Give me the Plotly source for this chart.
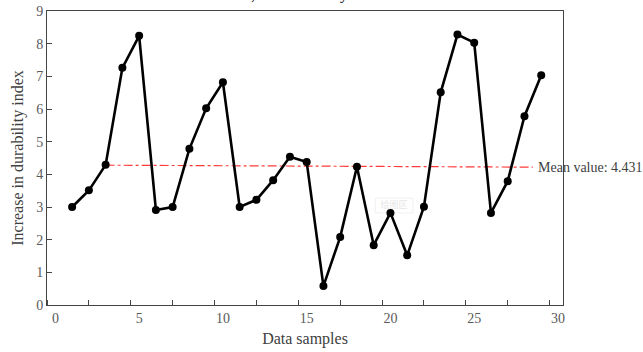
import plotly.graph_objects as go

samples = list(range(1, 30))
durability_increase = [3.00, 3.51, 4.29, 7.26, 8.24, 2.91, 3.00, 4.78, 6.02, 6.82,
                       3.00, 3.22, 3.82, 4.54, 4.38, 0.58, 2.08, 4.23, 1.83, 2.82,
                       1.52, 3.01, 6.51, 8.28, 8.03, 2.82, 3.79, 5.78, 7.03]
mean_line_x = [3, 28.5]
mean_line_y = [4.28, 4.22]
mean_label = "Mean value: 4.431"
x_tick_vals = [0, 5, 10, 15, 20, 25, 30]
y_tick_vals = [0, 1, 2, 3, 4, 5, 6, 7, 8, 9]

FONT = "Liberation Serif, Times New Roman, serif"

fig = go.Figure()
# faint watermark (behind the data)
fig.add_shape(type="rect", xref="x", yref="y", x0=19.1, x1=21.35, y0=2.82, y1=3.27,
              line=dict(color="#f0f0f0", width=1), fillcolor="rgba(255,255,255,0)", layer="below")
fig.add_trace(go.Scatter(x=[20.22], y=[3.05], mode="text", text=["绘图区"],
                         textfont=dict(family="Noto Sans CJK SC", size=9, color="#e6e6e6"),
                         showlegend=False, hoverinfo="skip"))
fig.add_trace(go.Scatter(
    x=mean_line_x, y=mean_line_y, mode="lines",
    line=dict(color="#ff3b3b", width=1.2, dash="dashdot"),
    showlegend=False, hoverinfo="skip"))
fig.add_trace(go.Scatter(
    x=samples, y=durability_increase, mode="lines+markers",
    line=dict(color="black", width=2.6),
    marker=dict(color="black", size=8),
    showlegend=False))

fig.add_annotation(x=mean_line_x[-1], y=mean_line_y[-1], xref="x", yref="y",
                   text=mean_label, showarrow=False, xanchor="left", yanchor="middle",
                   xshift=3, font=dict(family=FONT, size=14, color="#404040"))
# clipped title descenders at the top edge
fig.add_annotation(x=11.8, y=1.022, xref="x", yref="paper", text=",", showarrow=False,
                   yanchor="bottom", font=dict(family=FONT, size=16, color="black"))
fig.add_annotation(x=17.2, y=1.022, xref="x", yref="paper", text="y", showarrow=False,
                   yanchor="bottom", font=dict(family=FONT, size=16, color="black"))

fig.update_layout(
    width=643, height=352,
    margin=dict(l=47, r=80, t=11, b=47, autoexpand=False),
    paper_bgcolor="white", plot_bgcolor="white",
    font=dict(family=FONT, color="#595959", size=14),
    xaxis=dict(range=[-0.5, 30.3], tickvals=x_tick_vals, ticks="", automargin=False,
               showgrid=False, zeroline=False, showline=True, linecolor="#444",
               linewidth=1, mirror=True,
               minor=dict(tick0=2, dtick=2.5, ticks="inside", ticklen=5,
                          tickcolor="#444", showgrid=False),
               title=dict(text="Data samples", font=dict(size=16, color="#404040"), standoff=8),
               tickfont=dict(size=14)),
    yaxis=dict(range=[0, 9], tickvals=y_tick_vals, ticks="inside", ticklen=5, automargin=False,
               tickcolor="#444", showgrid=False, zeroline=False, showline=True,
               linecolor="#444", linewidth=1, mirror=True,
               title=dict(text="Increase in durability index", font=dict(size=16, color="#404040"), standoff=8),
               tickfont=dict(size=14)),
)

fig.write_html("out.html", config={"displayModeBar": False},
               post_script="document.body.style.margin='0';document.body.style.padding='0';")
